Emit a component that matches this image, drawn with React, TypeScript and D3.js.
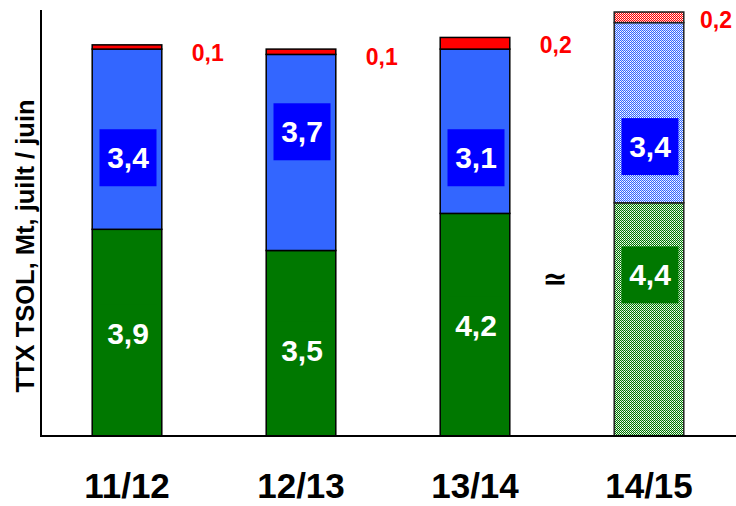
import React from "react";
import * as d3 from "d3";

const categories = ["11/12", "12/13", "13/14", "14/15"];
const greenValues = [3.9, 3.5, 4.2, 4.4];
const blueValues = [3.4, 3.7, 3.1, 3.4];
const redValues = [0.08, 0.1, 0.22, 0.2];
const forecast = [false, false, false, true];
// label anchor heights (in data units) as placed in the reference
const greenLabelAt = [1.94, 1.62, 2.09, 3.04];
const blueLabelAt = [5.25, 5.74, 5.25, 5.46];
const yTitle = "TTX TSOL, Mt, juilt / juin";

const W = 736;
const H = 506;
const GREEN = "#007800";
const BLUE = "#3366FF";
const BLUE_BOX = "#0000FF";
const RED = "#FF0000";
const FONT = "Liberation Sans, Arial, sans-serif";

const fmt = (v: number) => d3.format(".1f")(v).replace(".", ",");

export default function App() {
  const x = d3.scaleBand<string>().domain(categories).range([40, 736]).paddingInner(0.6).paddingOuter(0.3);
  const y = d3.scaleLinear().domain([0, 8]).range([436, 12]);
  const bw = x.bandwidth();

  const patterns = [
    { id: "hG", c: GREEN },
    { id: "hB", c: BLUE },
    { id: "hR", c: RED },
  ];

  return (
    <svg width={W} height={H} style={{ position: "absolute", left: 0, top: 0, background: "#fff" }}>
      <defs>
        {patterns.map((p) => (
          <pattern key={p.id} id={p.id} width={2} height={2} patternUnits="userSpaceOnUse">
            <rect width={2} height={2} fill="#fff" />
            <rect x={0} y={0} width={1} height={1} fill={p.c} />
            <rect x={1} y={1} width={1} height={1} fill={p.c} />
            <rect x={1} y={0} width={1} height={1} fill={p.c} opacity={0.25} />
          </pattern>
        ))}
      </defs>

      {categories.map((c, i) => {
        const x0 = x(c)!;
        const g0 = 0;
        const g1 = greenValues[i];
        const b1 = g1 + blueValues[i];
        const r1 = b1 + redValues[i];
        const hatched = forecast[i];
        const segs = [
          { lo: g0, hi: g1, fill: hatched ? "url(#hG)" : GREEN },
          { lo: g1, hi: b1, fill: hatched ? "url(#hB)" : BLUE },
          { lo: b1, hi: r1, fill: hatched ? "url(#hR)" : RED },
        ];
        const cx = x0 + bw / 2;
        const boxW = 57;
        const boxH = 57;
        const redX = Math.min(x0 + bw + 30, 700);
        return (
          <g key={c}>
            {segs.map((s, k) => (
              <rect
                key={k}
                x={x0}
                y={y(s.hi)}
                width={bw}
                height={y(s.lo) - y(s.hi)}
                fill={s.fill}
                stroke={hatched ? "#222" : "#000"}
                strokeWidth={1.5}
              />
            ))}
            <rect x={cx - boxW / 2 + 1} y={y(greenLabelAt[i]) - boxH / 2} width={boxW} height={boxH} fill={GREEN} />
            <text
              x={cx + 1}
              y={y(greenLabelAt[i])}
              dy="0.35em"
              textAnchor="middle"
              fill="#fff"
              fontFamily={FONT}
              fontWeight="bold"
              fontSize={30}
            >
              {fmt(greenValues[i])}
            </text>
            <rect x={cx - boxW / 2 + 1} y={y(blueLabelAt[i]) - boxH / 2} width={boxW} height={boxH} fill={BLUE_BOX} />
            <text
              x={cx + 1}
              y={y(blueLabelAt[i])}
              dy="0.35em"
              textAnchor="middle"
              fill="#fff"
              fontFamily={FONT}
              fontWeight="bold"
              fontSize={30}
            >
              {fmt(blueValues[i])}
            </text>
            <text
              x={redX}
              y={y(r1) + 8}
              dy="0.35em"
              fill={RED}
              fontFamily={FONT}
              fontWeight="bold"
              fontSize={23}
            >
              {fmt(redValues[i])}
            </text>
            <text
              x={cx}
              y={498}
              textAnchor="middle"
              fill="#000"
              fontFamily={FONT}
              fontWeight="bold"
              fontSize={35}
            >
              {c}
            </text>
          </g>
        );
      })}

      <text x={555} y={278} dy="0.35em" textAnchor="middle" fontFamily="DejaVu Sans" fontWeight="bold" fontSize={30}>
        ≃
      </text>

      <line x1={41} x2={41} y1={10} y2={437} stroke="#000" strokeWidth={2} />
      <line x1={40} x2={736} y1={436} y2={436} stroke="#000" strokeWidth={2} />

      <text
        transform={`translate(34, ${246}) rotate(-90)`}
        textAnchor="middle"
        fontFamily={FONT}
        fontWeight="bold"
        fontSize={25.5}
        fill="#000"
      >
        {yTitle}
      </text>
    </svg>
  );
}
